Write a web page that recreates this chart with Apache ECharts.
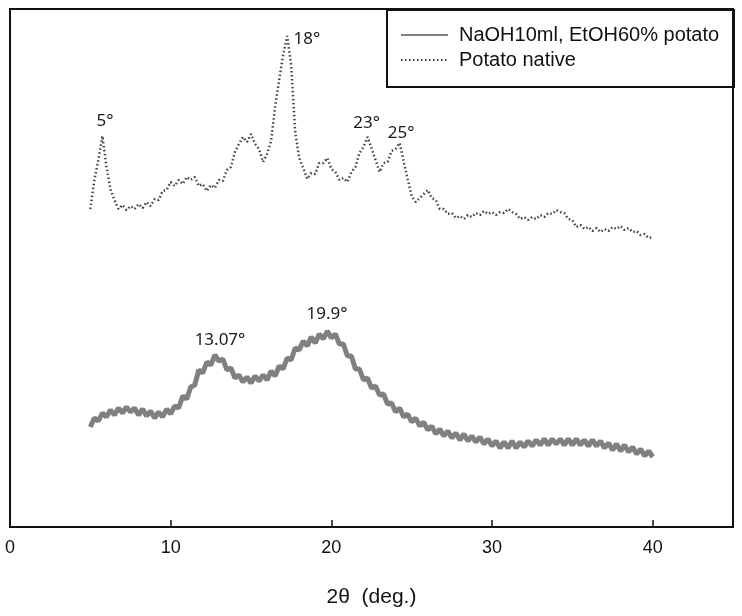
<!DOCTYPE html>
<html>
<head>
<meta charset="utf-8">
<script src="https://cdn.jsdelivr.net/npm/echarts@6/dist/echarts.min.js"></script>
<style>html,body{margin:0;padding:0;background:#fff;}#c{width:742px;height:616px;}</style>
</head>
<body>
<div id="c"></div>
<script>
// 2θ sampling grid: 5.00 to 40.00 deg, every 0.25 deg
const thetaStart = 5, thetaStep = 0.25;
const xTicks = ['0', '10', '20', '30', '40'];
const seriesNames = ['NaOH10ml, EtOH60% potato', 'Potato native'];

// Intensity (arbitrary units)
const naohValues = [
  100,109,106,114,110,117,112,119,114,120,115,119,112,118,111,116,109,115,110,118,
  113,121,119,131,128,140,142,157,154,165,162,172,166,168,157,159,149,152,145,150,
  144,151,146,152,147,156,151,161,158,169,167,179,177,186,181,190,184,193,188,196,
  189,193,183,183,171,171,158,158,147,149,139,141,132,133,123,124,115,119,110,113,
  105,109,101,105,97,101,93,98,91,96,89,94,87,93,86,91,85,90,83,88,
  81,86,79,85,79,86,79,85,80,86,81,87,82,88,82,88,83,88,82,88,
  82,88,82,87,81,87,81,86,79,84,77,83,76,82,75,80,73,78,71,76,70
];
const nativeValues = [
  318,347,367,391,361,338,327,318,322,317,321,318,323,319,325,321,328,327,336,337,
  345,341,347,343,350,347,350,341,343,336,342,339,347,346,357,360,375,383,390,385,
  393,383,378,365,373,386,420,447,472,491,462,395,369,359,348,354,353,364,364,369,
  358,355,347,349,345,355,360,374,380,390,379,367,355,364,365,376,378,384,366,348,
  331,325,329,333,337,329,327,318,318,313,314,309,311,308,312,310,314,312,316,313,
  315,312,315,314,318,315,313,308,310,307,310,308,312,310,314,313,317,315,314,308,
  307,300,302,298,300,296,299,295,298,296,300,298,301,297,299,295,296,292,293,289,290
];

// Peak annotations: text, 2θ, intensity
const peakLabelText = ['5°', '18°', '23°', '25°', '13.07°', '19.9°'];
const peakLabelX    = [5.91, 18.48, 22.2, 24.35, 13.07, 19.73];
const peakLabelY    = [406, 488, 404, 394, 187, 213];

const pairs = vals => vals.map((v, i) => [thetaStart + i * thetaStep, v]);

const chart = echarts.init(document.getElementById('c'), null, {renderer: 'canvas'});
const labelMarks = peakLabelText.map((t, i) => ({
  coord: [peakLabelX[i], peakLabelY[i]], value: t, name: t
}));
const markCfg = data => ({
  symbol: 'circle', symbolSize: 1, silent: true,
  itemStyle: {color: 'rgba(0,0,0,0)'},
  label: {show: true, position: 'inside', formatter: p => p.name, color: '#1a1a1a',
          fontFamily: 'Noto Sans', fontSize: 17},
  data: data
});

chart.setOption({
  animation: false,
  backgroundColor: '#fff',
  grid: {left: 10, right: 9, top: 9, bottom: 89, show: true,
         borderColor: '#111', borderWidth: 2, backgroundColor: 'transparent'},
  xAxis: {
    type: 'value', min: 0, max: 45, interval: 10,
    axisLine: {show: true, lineStyle: {color: '#111', width: 2}},
    axisTick: {show: true, inside: true, length: 7, lineStyle: {color: '#111', width: 1.5}},
    splitLine: {show: false},
    axisLabel: {color: '#111', fontFamily: 'Liberation Sans', fontSize: 18, margin: 12,
                formatter: v => xTicks.includes(String(v)) ? String(v) : ''},
    name: '2θ  (deg.)', nameLocation: 'middle', nameGap: 60,
    nameTextStyle: {color: '#111', fontFamily: 'Liberation Sans', fontSize: 21}
  },
  yAxis: {
    type: 'value', min: 0, max: 518,
    axisLine: {show: true, lineStyle: {color: '#111', width: 2}},
    axisTick: {show: false}, axisLabel: {show: false}, splitLine: {show: false}
  },
  legend: {
    left: 400, top: 25, orient: 'vertical', padding: 0, itemGap: 5,
    itemWidth: 47, itemHeight: 20,
    itemStyle: {opacity: 0},
    textStyle: {color: '#111', fontFamily: 'Liberation Sans', fontSize: 20, lineHeight: 20,
                padding: [0, 0, 0, 6]},
    data: seriesNames
  },
  graphic: [{
    type: 'rect', left: 386, top: 9, shape: {width: 347, height: 77},
    style: {fill: 'transparent', stroke: '#111', lineWidth: 2}, z: 100
  }],
  series: [
    {
      name: seriesNames[0], type: 'line', data: pairs(naohValues),
      symbol: 'none', smooth: false,
      lineStyle: {color: '#808080', width: 5}, itemStyle: {color: '#808080'},
      markPoint: markCfg(labelMarks.slice(4))
    },
    {
      name: seriesNames[1], type: 'line', data: pairs(nativeValues),
      symbol: 'none', smooth: false,
      lineStyle: {color: '#444', width: 2.5, type: [1.5, 2.5]}, itemStyle: {color: '#444'},
      markPoint: markCfg(labelMarks.slice(0, 4))
    }
  ]
});
</script>
</body>
</html>
